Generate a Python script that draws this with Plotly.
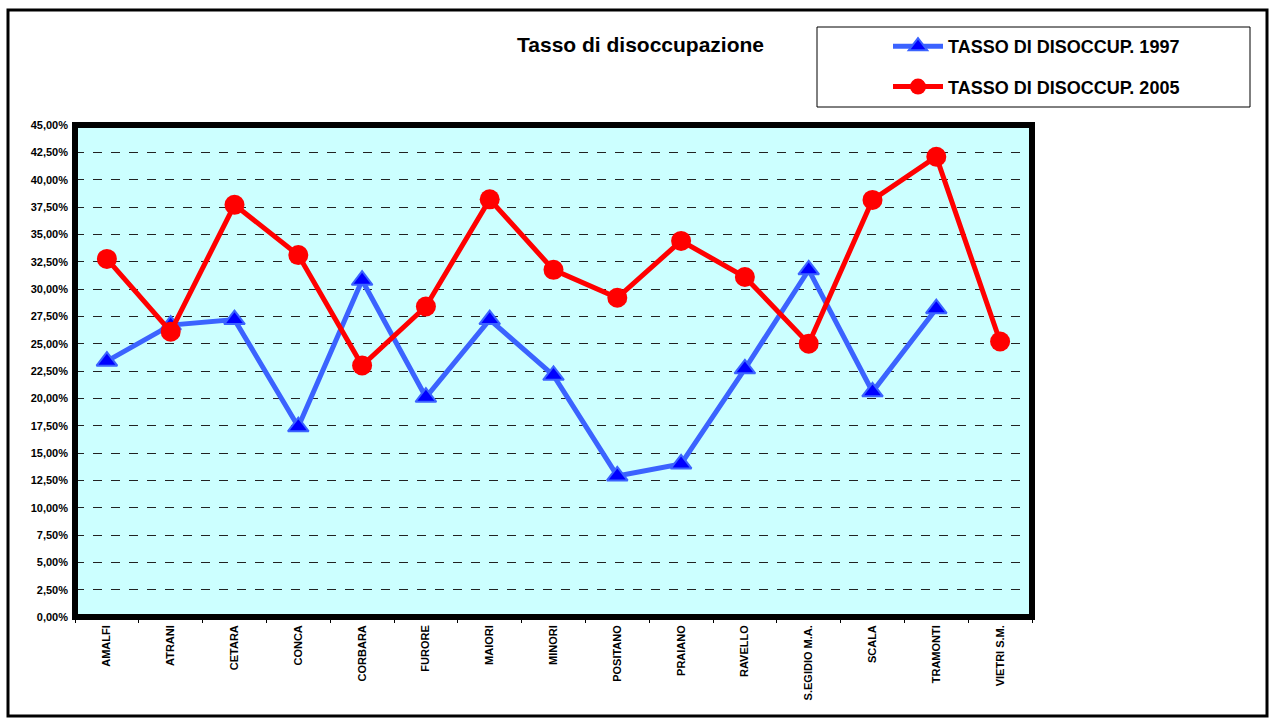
import plotly.graph_objects as go

comuni = ["AMALFI", "ATRANI", "CETARA", "CONCA", "CORBARA", "FURORE", "MAIORI",
          "MINORI", "POSITANO", "PRAIANO", "RAVELLO", "S.EGIDIO M.A.", "SCALA",
          "TRAMONTI", "VIETRI S.M."]
tasso_1997 = [23.4, 26.7, 27.2, 17.4, 30.8, 20.1, 27.2, 22.1, 12.9, 14.0, 22.7, 31.75, 20.6, 28.2, None]
tasso_2005 = [32.75, 26.1, 37.7, 33.1, 23.0, 28.4, 38.2, 31.75, 29.2, 34.4, 31.1, 25.0, 38.15, 42.1, 25.2]
y_ticks = [i * 2.5 for i in range(19)]
y_ticktext = [f"{v:.2f}".replace(".", ",") + "%" for v in y_ticks]

FONT = "Arial, Liberation Sans, sans-serif"

W, H = 1272, 720
L, R, T, B = 75, 1032, 125, 617
pw, ph = R - L, B - T


def px(x):
    return (x - L) / pw


def py(y):
    return (B - y) / ph


fig = go.Figure()
fig.add_trace(go.Scatter(
    x=comuni, y=tasso_1997, mode="lines+markers", name="TASSO DI DISOCCUP. 1997",
    line=dict(color="#3B63FF", width=5),
    marker=dict(symbol="triangle-up", size=18, color="#0000FF",
                line=dict(color="#3B63FF", width=2)),
    legendgroup="a", connectgaps=False,
))
fig.add_trace(go.Scatter(
    x=comuni, y=tasso_2005, mode="lines+markers", name="TASSO DI DISOCCUP. 2005",
    line=dict(color="#FF0000", width=5),
    marker=dict(symbol="circle", size=20, color="#FF0000"),
    legendgroup="b",
))

fig.update_layout(
    width=W, height=H,
    margin=dict(l=L, r=W - R, t=T, b=H - B, pad=0),
    paper_bgcolor="white",
    plot_bgcolor="#CCFFFF",
    font=dict(family=FONT, color="black"),
    showlegend=True,
    legend=dict(
        x=px(888), y=py(28), xanchor="left", yanchor="top",
        bgcolor="rgba(0,0,0,0)", borderwidth=0,
        font=dict(size=18, family=FONT, color="black", weight="bold"),
        traceorder="grouped", tracegroupgap=14,
        itemwidth=50,
    ),
    xaxis=dict(
        type="category", range=[-0.5, 14.5],
        showgrid=False, zeroline=False,
        tickangle=-90, tickson="boundaries", ticks="outside", ticklen=5,
        tickcolor="black", ticklabelstandoff=5,
        tickfont=dict(size=11, family=FONT, color="black", weight="bold"),
        showline=False,
    ),
    yaxis=dict(
        range=[0, 45], tickvals=y_ticks, ticktext=y_ticktext,
        showgrid=True, gridcolor="#222222", gridwidth=1, griddash="dash",
        zeroline=False, ticks="", showline=False, ticklabelstandoff=6,
        tickfont=dict(size=11, family=FONT, color="black", weight="bold"),
    ),
    shapes=[
        dict(type="rect", xref="paper", yref="paper",
             x0=px(8), x1=px(1267), y0=py(716), y1=py(10),
             line=dict(color="black", width=3), layer="above"),
        dict(type="rect", xref="paper", yref="paper",
             x0=px(817), x1=px(1250), y0=py(107), y1=py(27),
             line=dict(color="black", width=1), layer="below",
             fillcolor="white"),
        dict(type="rect", xref="paper", yref="paper",
             x0=0, x1=1, y0=0, y1=1,
             line=dict(color="black", width=6), layer="above"),
    ],
    annotations=[
        dict(text="<b>Tasso di disoccupazione</b>", xref="paper", yref="paper",
             x=px(640), y=py(44), xanchor="center", yanchor="middle",
             showarrow=False, font=dict(size=21, family=FONT, color="black")),
    ],
)

fig.write_html("out.html", config={"displayModeBar": False},
               post_script="document.body.style.margin='0px';")
